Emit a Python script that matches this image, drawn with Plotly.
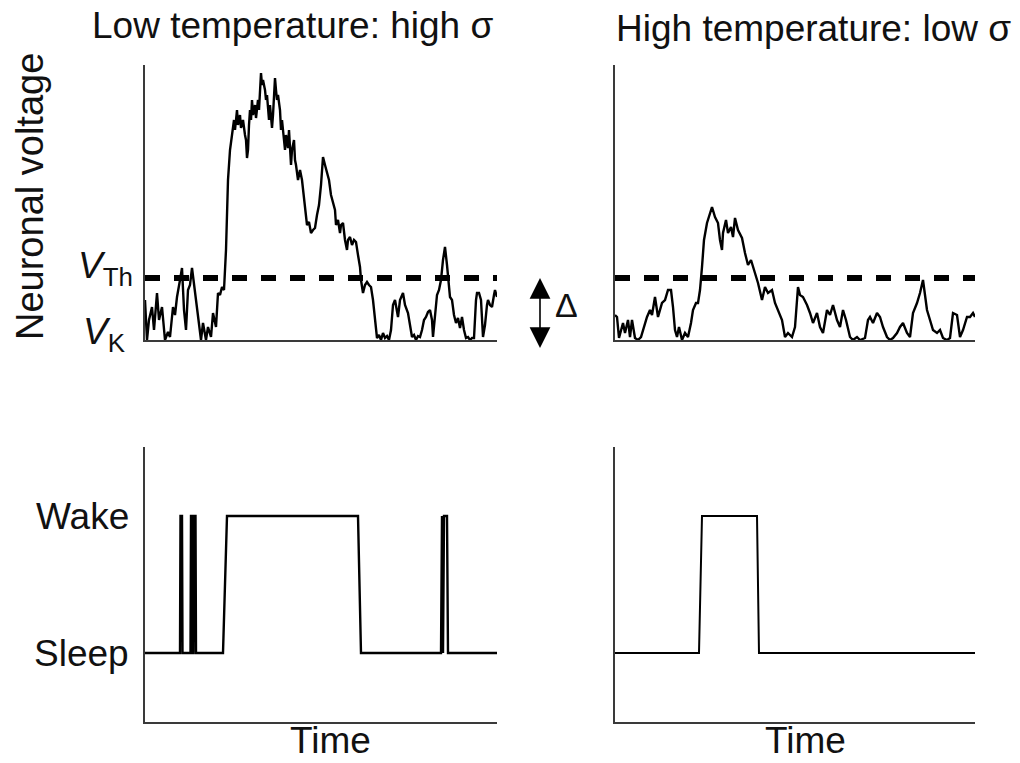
import plotly.graph_objects as go

# ---------------- data (arbitrary units) ----------------
# Voltage relative to V_K (V_K = 0); threshold V_Th
V_TH = 62

# Low temperature (high sigma) voltage trace
low_t = [0, 2, 4, 7, 9, 12, 14, 17, 20, 23, 25, 28, 30, 32, 35, 37, 39, 41, 43, 45,
         47, 49, 50, 53, 56, 58, 61, 63, 66, 68, 71, 73, 75, 77, 79, 81, 83, 85, 87, 89,
         90, 92, 93, 95, 96, 98, 100, 101, 102, 103, 104, 105, 106, 107, 108, 110, 111, 113, 114, 116,
         117, 118, 120, 121, 122, 123, 124, 125, 127, 128, 130, 131, 132, 133, 135, 136, 137, 139, 140, 141,
         143, 144, 145, 146, 147, 149, 150, 151, 153, 155, 157, 158, 160, 162, 164, 166, 168, 170, 172, 174,
         176, 178, 180, 182, 184, 186, 188, 190, 191, 193, 195, 196, 198, 200, 202, 203, 205, 207, 209, 211,
         213, 215, 216, 218, 220, 222, 224, 226, 228, 230, 232, 234, 236, 238, 240, 242, 244, 246, 248, 250,
         252, 253, 255, 257, 258, 260, 262, 263, 265, 267, 269, 271, 273, 275, 277, 279, 281, 283, 285, 287,
         288, 290, 292, 294, 296, 298, 300, 302, 304, 305, 307, 309, 311, 313, 315, 317, 319, 321, 323, 325,
         327, 329, 331, 332, 334, 336, 338, 340, 342, 343, 345, 347, 349, 350, 352]
low_v = [40, 0, 20, 33, 10, 47, 20, 33, 0, 8, 3, 33, 25, 43, 60, 72, 30, 10, 50, 55,
         72, 55, 50, 27, 0, 17, 0, 13, 3, 27, 13, 47, 45, 53, 50, 90, 160, 190, 203, 220,
         210, 230, 215, 225, 212, 220, 205, 200, 182, 190, 215, 230, 220, 240, 225, 235, 222, 240, 230, 267,
         255, 260, 250, 240, 245, 230, 220, 235, 212, 225, 262, 250, 240, 245, 230, 210, 220, 200, 190, 205,
         192, 210, 195, 175, 190, 200, 180, 175, 160, 170, 160, 150, 130, 115, 118, 107, 110, 112, 125, 135,
         155, 183, 175, 168, 160, 145, 137, 130, 115, 120, 107, 115, 117, 100, 90, 100, 103, 95, 100, 98,
         85, 73, 60, 47, 55, 58, 55, 53, 40, 20, 2, 5, 0, 7, 2, 4, 0, 10, 35, 40,
         25, 23, 40, 45, 47, 35, 30, 27, 15, 3, 5, 0, 4, 3, 10, 20, 23, 28, 30, 20,
         3, 25, 45, 50, 60, 80, 93, 75, 50, 43, 40, 25, 17, 22, 12, 23, 10, 2, 3, 0,
         2, 2, 40, 47, 47, 40, 3, 15, 35, 40, 35, 33, 45, 50, 43]

# High temperature (low sigma) voltage trace
high_t = [0, 2, 4, 8, 10, 13, 15, 17, 20, 23, 26, 28, 32, 35, 37, 40, 43, 47, 50, 53,
          56, 58, 60, 62, 64, 67, 70, 73, 76, 78, 81, 83, 85, 87, 89, 92, 95, 97, 100, 103,
          105, 107, 108, 111, 113, 116, 118, 120, 123, 127, 130, 133, 136, 140, 143, 147, 150, 153, 157, 160,
          163, 167, 170, 173, 177, 180, 183, 185, 188, 192, 195, 198, 202, 205, 208, 212, 215, 218, 222, 225,
          228, 231, 235, 238, 242, 245, 250, 253, 255, 258, 262, 265, 268, 272, 275, 278, 282, 285, 288, 292,
          295, 298, 302, 305, 308, 310, 312, 315, 318, 322, 325, 328, 332, 335, 338, 342, 345, 348, 352, 355,
          358, 360]
high_v = [25, 23, 2, 17, 7, 20, 3, 20, 2, 0, 3, 10, 23, 30, 25, 43, 23, 37, 40, 50,
          50, 33, 10, 3, 13, 0, 7, 3, 17, 30, 37, 37, 50, 73, 100, 117, 127, 133, 123, 117,
          100, 90, 107, 120, 107, 113, 103, 122, 110, 102, 87, 75, 80, 67, 57, 40, 53, 47, 50, 37,
          30, 20, 3, 7, 3, 13, 53, 45, 43, 35, 27, 17, 27, 13, 7, 30, 25, 35, 20, 13,
          30, 20, 3, 0, 3, 0, 2, 20, 23, 17, 27, 23, 13, 3, 0, 2, 7, 13, 17, 7,
          3, 27, 37, 47, 60, 47, 30, 20, 10, 7, 10, 2, 0, 2, 27, 25, 3, 10, 23, 23,
          27, 23]

# Behavioural state (0 = Sleep, 1 = Wake)
low_state_t = [0, 35, 35.5, 37, 37.5, 45.5, 46, 47, 47.5, 48.5, 49, 50.5, 51, 51.5, 78, 82,
               213, 216, 296, 297, 298, 299, 302, 303, 352]
low_state = [0, 0, 1, 1, 0, 0, 1, 1, 0, 0, 1, 1, 0, 0, 0, 1,
             1, 0, 0, 1, 0, 1, 1, 0, 0]
high_state_t = [0, 84, 87, 142, 144, 360]
high_state = [0, 0, 1, 1, 0, 0]

state_ticks = [0, 1]
state_labels = ["Sleep", "Wake"]
titles = ["Low temperature: high σ", "High temperature: low σ"]

# ---------------- figure ----------------
W, H = 1020, 763
FONT = "Liberation Sans, Arial, sans-serif"
AX = "#3a3a3a"
TXT = "#111"
FS = 37

def px(x):
    return x / W

def py(y):
    return 1 - y / H

fig = go.Figure()

fig.add_trace(go.Scatter(x=low_t, y=low_v, mode="lines", line=dict(color="black", width=2.4),
                         xaxis="x", yaxis="y", hoverinfo="skip"))
fig.add_trace(go.Scatter(x=[0, max(low_t)], y=[V_TH, V_TH], mode="lines",
                         line=dict(color="black", width=6, dash="15px,14px"), xaxis="x", yaxis="y"))
fig.add_trace(go.Scatter(x=high_t, y=high_v, mode="lines", line=dict(color="black", width=2.4),
                         xaxis="x2", yaxis="y2", hoverinfo="skip"))
fig.add_trace(go.Scatter(x=[0, max(high_t)], y=[V_TH, V_TH], mode="lines",
                         line=dict(color="black", width=6, dash="15px,14px"), xaxis="x2", yaxis="y2"))
fig.add_trace(go.Scatter(x=low_state_t, y=low_state, mode="lines", line=dict(color="black", width=2.4),
                         xaxis="x3", yaxis="y3"))
fig.add_trace(go.Scatter(x=high_state_t, y=high_state, mode="lines", line=dict(color="black", width=2),
                         xaxis="x4", yaxis="y4"))

xl = [px(145), px(497)]
xr = [px(615), px(975)]
yt = [py(340), py(65)]
yb = [py(722), py(447)]

def ax(dom, rng, anchor):
    return dict(domain=dom, range=rng, anchor=anchor, showline=True, linecolor=AX, linewidth=1.5,
                showgrid=False, zeroline=False, showticklabels=False, ticks="")

fig.update_layout(
    width=W, height=H, margin=dict(l=0, r=0, t=0, b=0),
    paper_bgcolor="white", plot_bgcolor="white", showlegend=False,
    font=dict(family=FONT, color=TXT, size=FS),
    xaxis=ax(xl, [0, 352], "y"), yaxis=ax(yt, [0, 275], "x"),
    xaxis2=ax(xr, [0, 360], "y2"), yaxis2=ax(yt, [0, 275], "x2"),
    xaxis3=ax(xl, [0, 352], "y3"), yaxis3=ax(yb, [-0.504, 1.504], "x3"),
    xaxis4=ax(xr, [0, 360], "y4"), yaxis4=ax(yb, [-0.504, 1.504], "x4"),
)

ann = []
def text(t, x, y, xa="center", ya="middle", size=FS, angle=0):
    ann.append(dict(text=t, x=px(x), y=py(y), xref="paper", yref="paper", xanchor=xa, yanchor=ya,
                    showarrow=False, textangle=angle, font=dict(size=size, family=FONT, color=TXT)))

text(titles[0], 292, 25)
text(titles[1], 813, 28)
text("Neuronal voltage", 30, 197, size=38, angle=-90)
text("<i>V</i><sub>Th</sub>", 135, 268, xa="right")
text("<i>V</i><sub>K</sub>", 127, 334, xa="right")
text("Δ", 566, 305, size=34)
for v, lab in zip(state_ticks, state_labels):
    yy = 653 - v * 137
    text(lab, 131, yy, xa="right")
text("Time", 330, 763, ya="bottom")
text("Time", 805, 763, ya="bottom")

ann.append(dict(text=" ", x=px(540), y=py(278), xref="paper", yref="paper", ax=0, ay=72,
                showarrow=True, arrowhead=2, arrowside="end+start", arrowsize=2.6, arrowwidth=1.6,
                arrowcolor="black", standoff=0, startstandoff=0, font=dict(size=1)))
fig.update_layout(annotations=ann)

fig.write_html("out.html")
